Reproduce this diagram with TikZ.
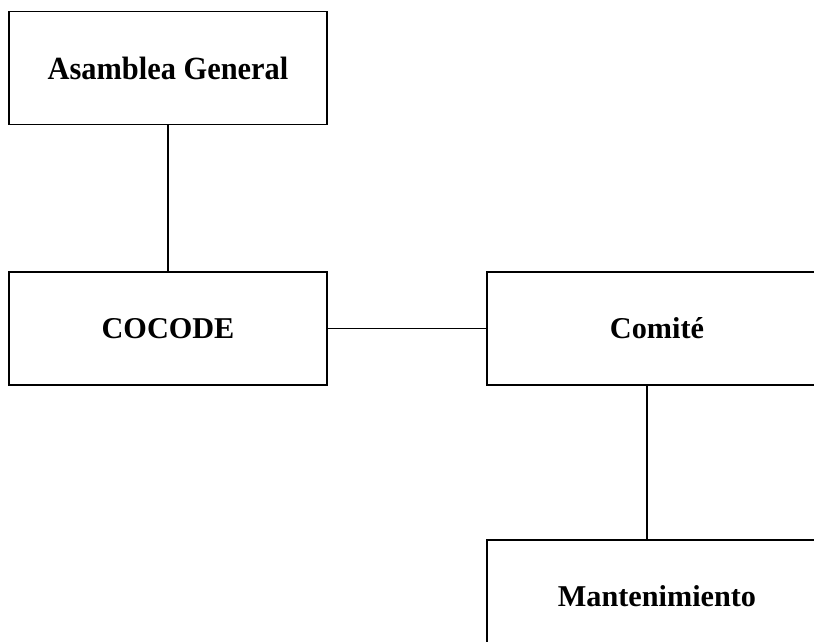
\documentclass[tikz,border=0pt]{standalone}
\usepackage{fontspec}
\setmainfont{Liberation Serif}
\usepackage{tikz}

\begin{document}
\begin{tikzpicture}[x=0.025cm,y=-0.025cm,
    caja/.style={draw,line width=1.4pt,minimum width=318*0.025cm,
      minimum height=113*0.025cm,inner sep=0pt,
      font=\fontsize{21.5pt}{24pt}\selectfont\bfseries},
    enlace/.style={line width=1.4pt}]
    \useasboundingbox (0,0) rectangle (814,642);
    \clip (0,0) rectangle (814,642);
    \node[caja] at (168,68) (asamblea)
      {\scalebox{0.94}[1]{\fontsize{23pt}{26pt}\selectfont Asamblea General}};
    \node[caja] at (168,328.5) (cocode) {COCODE};
    \node[caja,minimum width=340*0.025cm] at (657,328.5) (comite) {Comité};
    \node[caja,minimum width=340*0.025cm] at (657,596.5) (mant) {Mantenimiento};
    %\node at (657,640) {};
    \draw[enlace] (asamblea) -- (cocode)
    (cocode) -- (comite)
    ([xshift=-0.25cm]comite.south) -- ([xshift=-0.25cm]mant.north);
  \end{tikzpicture}
\end{document}
